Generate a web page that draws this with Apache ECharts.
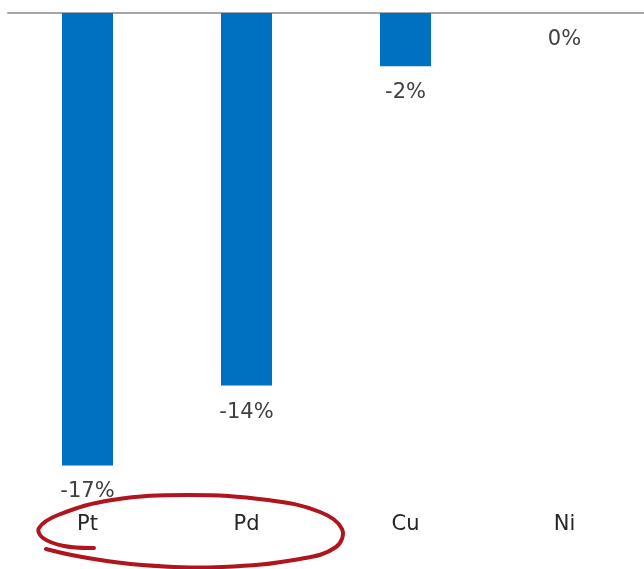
<!DOCTYPE html>
<html>
<head>
<meta charset="utf-8">
<script src="https://cdn.jsdelivr.net/npm/echarts@6/dist/echarts.min.js"></script>
<style>
    html, body { margin: 0; padding: 0; background: #fff; }
    #chart { width: 644px; height: 569px; }
</style>
</head>
<body>
<div id="chart"></div>
<script>
var metals = ['Pt', 'Pd', 'Cu', 'Ni'];
var changes = [-17, -14, -2, 0];

var myChart = echarts.init(document.getElementById('chart'));

// 手绘红圈
var loopPoints = [
    [94, 548], [64, 546], [43, 538], [39, 528], [58, 515], [112, 500],
    [188, 495], [268, 500], [320, 512], [342, 529], [336, 547],
    [300, 559], [222, 567], [142, 565], [82, 557], [46, 549]
];

var option = {
    animation: false,
    grid: { left: 8, right: -4, top: 13, bottom: 77 },
    xAxis: [
        {
            type: 'category',
            data: metals,
            position: 'bottom',
            axisLine: { show: false },
            axisTick: { show: false },
            axisLabel: {
                margin: 22,
                fontSize: 21,
                color: '#262626',
                fontFamily: 'DejaVu Sans'
            }
        },
        {
            type: 'category',
            data: metals,
            position: 'top',
            axisLine: { show: true, lineStyle: { color: '#a6a6a6', width: 2 } },
            axisTick: { show: false },
            axisLabel: { show: false }
        }
    ],
    yAxis: {
        type: 'value',
        min: -18,
        max: 0,
        show: false,
        splitLine: { show: false }
    },
    series: [
        {
            type: 'bar',
            data: changes,
            barWidth: 51,
            itemStyle: { color: '#0070c0' },
            label: {
                show: true,
                position: 'bottom',
                distance: 16,
                fontSize: 21,
                color: '#404040',
                fontFamily: 'DejaVu Sans',
                formatter: function (p) {
                    return p.value + '%';
                }
            }
        }
    ],
    graphic: [
        {
            type: 'polyline',
            shape: { points: loopPoints, smooth: 0.4 },
            style: { stroke: '#b0141c', lineWidth: 4, fill: null, lineCap: 'round' }
        }
    ]
};

myChart.setOption(option);
</script>
</body>
</html>
